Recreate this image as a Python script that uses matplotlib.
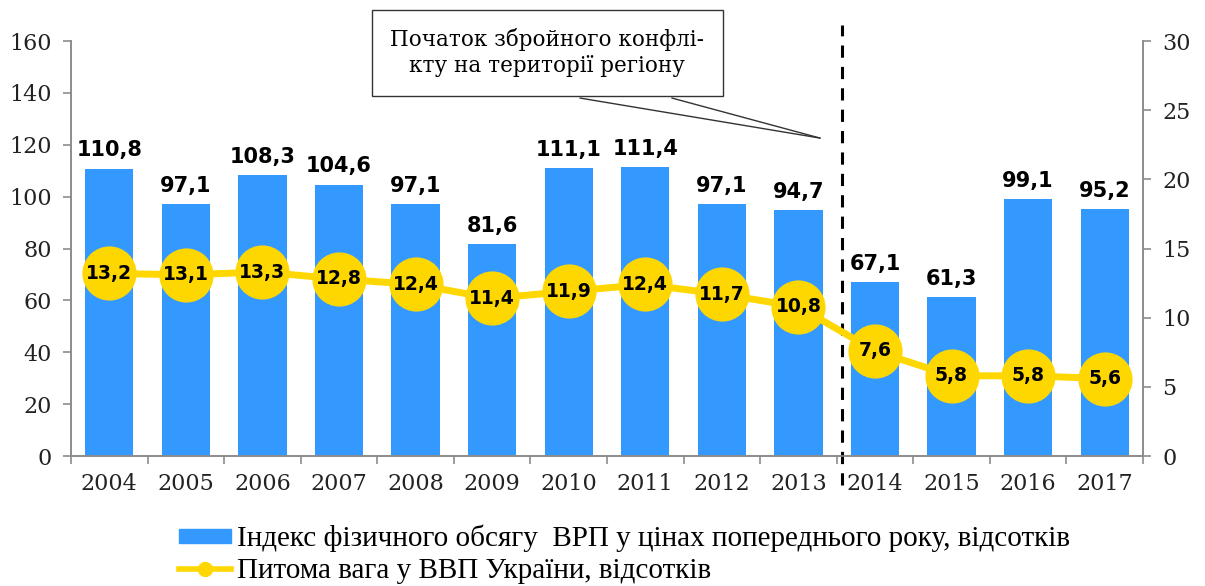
import matplotlib.pyplot as plt
from matplotlib.patches import Patch
from matplotlib.lines import Line2D
import numpy as np

SET_DPI = 100
FIGSIZE = (12.05, 5.86)

years = ['2004', '2005', '2006', '2007', '2008', '2009', '2010',
         '2011', '2012', '2013', '2014', '2015', '2016', '2017']
grp_index = [110.8, 97.1, 108.3, 104.6, 97.1, 81.6, 111.1,
             111.4, 97.1, 94.7, 67.1, 61.3, 99.1, 95.2]
share_ua = [13.2, 13.1, 13.3, 12.8, 12.4, 11.4, 11.9,
            12.4, 11.7, 10.8, 7.6, 5.8, 5.8, 5.6]

BAR_COLOR = '#3399ff'
LINE_COLOR = '#ffd700'
GREY = '#8c8c8c'
SERIF = 'DejaVu Serif'

fig = plt.figure(figsize=FIGSIZE, dpi=SET_DPI)
ax = fig.add_axes([0.0589, 0.2218, 0.8896, 0.7082])
ax2 = ax.twinx()

x = np.arange(len(years))
ax.bar(x, grp_index, width=0.63, color=BAR_COLOR, zorder=2)
for xi, v in zip(x, grp_index):
    ax.annotate(f'{v:.1f}'.replace('.', ','), (xi, v), xytext=(0, 6),
                textcoords='offset points', ha='center', va='bottom',
                fontsize=15, fontweight='bold', family='DejaVu Sans')

ax.set_xlim(-0.5, len(years) - 0.5)
ax.set_ylim(0, 160)
ax.set_yticks(range(0, 161, 20))
ax.set_xticks(np.arange(-0.5, len(years), 1))
ax.set_xticklabels([])
ax.set_xticks(x, minor=True)
ax.set_xticklabels(years, minor=True)
ax.tick_params(axis='x', which='major', length=6, color=GREY, width=1.2)
ax.tick_params(axis='x', which='minor', length=0, pad=12)
ax.tick_params(axis='y', length=6, color=GREY, width=1.2, pad=8)
for lab in ax.get_xticklabels(minor=True) + ax.get_yticklabels():
    lab.set_fontfamily(SERIF)
    lab.set_fontsize(16)
    lab.set_color('#222222')

ax2.plot(x, share_ua, color=LINE_COLOR, lw=5, marker='o', markersize=38,
         zorder=3)
for xi, v in zip(x, share_ua):
    ax2.text(xi, v, f'{v:.1f}'.replace('.', ','), ha='center', va='center',
             fontsize=13.5, fontweight='bold', family='DejaVu Sans', zorder=4)
ax2.set_ylim(0, 30)
ax2.set_yticks(range(0, 31, 5))
ax2.tick_params(axis='y', length=6, color=GREY, width=1.2, pad=8)
for lab in ax2.get_yticklabels():
    lab.set_fontfamily(SERIF)
    lab.set_fontsize(16)
    lab.set_color('#222222')

for a in (ax, ax2):
    a.spines['top'].set_visible(False)
    for s in ('left', 'right', 'bottom'):
        a.spines[s].set_color(GREY)
        a.spines[s].set_linewidth(1.2)

# conflict start marker
ax.plot([9.57, 9.57], [-11, 166], color='black', lw=2.2, ls=(0, (4, 3)),
        clip_on=False, zorder=5)

# callout
ax.text(5.72, 155.5, 'Початок збройного конфлі-\nкту на території регіону',
        ha='center', va='center', fontsize=15.5, family=SERIF,
        linespacing=1.25, zorder=6,
        bbox=dict(boxstyle='square,pad=0.85', fc='white', ec='#333333', lw=1))
ax.plot([6.15, 9.28], [138, 122.6], color='#333333', lw=1, clip_on=False)
ax.plot([7.35, 9.28], [138, 122.6], color='#333333', lw=1, clip_on=False)

handles = [Patch(color=BAR_COLOR),
           Line2D([], [], color=LINE_COLOR, lw=4, marker='o', markersize=10)]
labels = ['Індекс фізичного обсягу  ВРП у цінах попереднього року, відсотків',
          'Питома вага у ВВП України, відсотків']
fig.legend(handles, labels, loc='lower left', bbox_to_anchor=(0.134, -0.027),
           frameon=False, prop={'family': 'Liberation Serif', 'size': 21},
           handlelength=1.8, handleheight=0.4, handletextpad=0.2,
           labelspacing=0.2, borderaxespad=0.2)

plt.savefig('out.png', dpi=SET_DPI)
plt.close()
